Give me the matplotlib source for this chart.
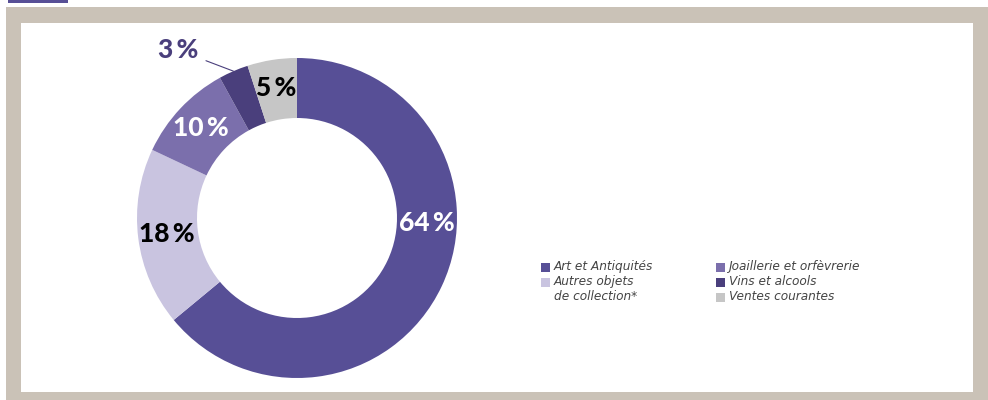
import numpy as np
import matplotlib
matplotlib.use("Agg")
import matplotlib.pyplot as plt
from matplotlib.patches import Rectangle

categories = ["Art et Antiquités", "Autres objets\nde collection*", "Joaillerie et orfèvrerie",
              "Vins et alcools", "Ventes courantes"]
shares = [64, 18, 10, 3, 5]
colors = ["#574f96", "#c9c4e0", "#7b6fac", "#4a3f7c", "#c6c6c6"]
label_colors = ["white", "black", "white", "#4a3f7c", "black"]

W, H = 988, 400
fig = plt.figure(figsize=(W / 100, H / 100), dpi=100)
plt.rcParams['font.family'] = ['Lato', 'DejaVu Sans']


def px(x, y, w, h):
    # pixel box (top-left origin) -> figure fraction
    return [x / W, 1 - (y + h) / H, w / W, h / H]


# background frame
bg = fig.add_axes([0, 0, 1, 1])
bg.set_xlim(0, W)
bg.set_ylim(H, 0)
bg.axis("off")
bg.add_patch(Rectangle((6, 7), W - 6, H - 7, color="#cac2b7", lw=0))
bg.add_patch(Rectangle((21, 23), 952, 369, color="white", lw=0))
bg.add_patch(Rectangle((8, 0), 60, 3, color="#574f96", lw=0))

# donut
ax = fig.add_axes(px(137, 58, 320, 320))
wedges, _ = ax.pie(shares, colors=colors, startangle=90, counterclock=False,
                   radius=1, wedgeprops=dict(width=0.375, linewidth=0))
ax.set_xlim(-1, 1)
ax.set_ylim(-1, 1)
ax.set_aspect("equal")
ax.axis("off")

lbl = dict(ha="center", va="center", fontsize=19, fontweight="black")
for i, (w, s) in enumerate(zip(wedges, shares)):
    mid = np.deg2rad((w.theta1 + w.theta2) / 2)
    r = 0.82
    if i == 0:
        mid = np.deg2rad(-2)
        r = 0.81
    text = f"{s}\u2009%"
    if i == 3:
        # small slice: label outside with a leader line
        ex, ey = np.cos(mid), np.sin(mid)
        ax.annotate(text, xy=(ex, ey), xytext=(-0.745, 1.05),
                    color=label_colors[i], annotation_clip=False,
                    arrowprops=dict(arrowstyle="-", color=label_colors[i], lw=0.8,
                                    shrinkA=4, shrinkB=0), **lbl)
        continue
    ax.text(r * np.cos(mid), r * np.sin(mid), text, color=label_colors[i], **lbl)

# legend
lg = fig.add_axes([0, 0, 1, 1], facecolor="none")
lg.set_xlim(0, W)
lg.set_ylim(H, 0)
lg.axis("off")
slots = [(541, 267), (541, 282), (716, 267), (716, 282), (716, 297)]
for (x, y), name, c in zip(slots, categories, colors):
    lg.add_patch(Rectangle((x, y - 4.5), 9, 9, color=c, lw=0))
    lg.text(x + 13, y - 7, name, ha="left", va="top", fontsize=8.7,
            family=["DejaVu Sans"], style="italic",
            color="#444444", linespacing=1.22)

fig.savefig("out.png", dpi=100)
